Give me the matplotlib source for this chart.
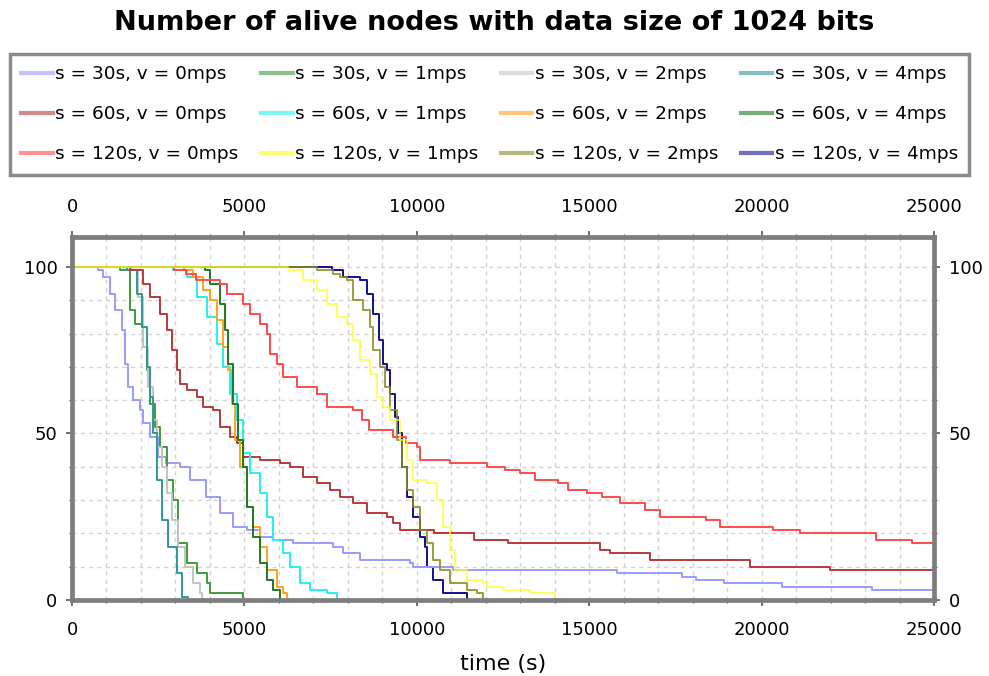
import matplotlib
matplotlib.use("Agg")
import matplotlib.pyplot as plt
from matplotlib.ticker import MultipleLocator

plt.rcParams['font.family'] = ['DejaVu Sans']

# alive nodes over time (s), drawn as steps
t_30_0 = [0, 750, 900, 1100, 1250, 1440, 1540, 1630, 1780, 1970, 2070, 2260, 2500, 2740, 3130, 3420,
          3900, 4290, 4680, 5070, 5450, 5840, 6420, 7580, 7870, 8350, 9800, 9900, 11050, 15800, 17700,
          18100, 18900, 20600, 23200, 25000]
n_30_0 = [100, 99, 97, 92, 87, 81, 71, 64, 60, 57, 53, 49, 43, 41, 40, 36,
          31, 26, 22, 21, 19, 18, 17, 16, 14, 12, 11, 10, 9, 8, 7,
          6, 5, 4, 3, 3]

t_30_1 = [0, 1390, 1680, 1830, 2070, 2170, 2260, 2410, 2550, 2750, 2940, 3080, 3330, 3620, 3910, 4000, 4970]
n_30_1 = [100, 99, 87, 83, 76, 69, 59, 52, 46, 36, 30, 17, 11, 8, 5, 2, 0]

t_30_2 = [0, 1730, 1920, 2070, 2210, 2360, 2460, 2600, 2750, 2890, 3080, 3280, 3520, 3710, 3760]
n_30_2 = [100, 99, 91, 76, 64, 54, 46, 40, 32, 24, 16, 10, 5, 2, 0]

t_30_4 = [0, 1590, 1880, 2020, 2170, 2260, 2360, 2460, 2600, 2790, 3040, 3180, 3370]
n_30_4 = [100, 99, 92, 82, 70, 61, 50, 36, 24, 16, 8, 1, 0]

t_60_0 = [0, 1680, 2070, 2260, 2550, 2750, 2890, 3040, 3130, 3330, 3620, 3810, 4100, 4290, 4580, 4780,
          4970, 5450, 6030, 6320, 6710, 7100, 7480, 7770, 8160, 8550, 9130, 9320, 9510, 10500, 11650,
          12650, 15300, 15600, 16760, 19660, 21980, 25000]
n_60_0 = [100, 99, 95, 91, 86, 81, 75, 69, 65, 63, 61, 58, 57, 52, 49, 47,
          43, 42, 41, 40, 37, 35, 33, 31, 29, 26, 25, 23, 21, 20, 18,
          17, 15, 14, 12, 10, 9, 9]

t_60_1 = [0, 2940, 3330, 3620, 3910, 4200, 4390, 4580, 4780, 4970, 5160, 5450, 5650, 5840, 6130, 6320,
          6610, 6900, 7390, 7680]
n_60_1 = [100, 99, 97, 91, 85, 77, 70, 62, 54, 44, 38, 32, 25, 18, 14, 10,
          5, 3, 2, 0]

t_60_2 = [0, 3250, 3520, 3810, 4000, 4200, 4390, 4530, 4630, 4730, 4870, 5070, 5260, 5450, 5650, 5940,
          6130, 6230]
n_60_2 = [100, 99, 97, 93, 90, 84, 76, 69, 59, 48, 40, 28, 22, 16, 9, 4,
          2, 0]

t_60_4 = [0, 3860, 4000, 4290, 4440, 4530, 4680, 4820, 4970, 5070, 5260, 5450, 5650, 5840, 6030]
n_60_4 = [100, 99, 95, 89, 81, 71, 59, 48, 40, 28, 19, 11, 6, 3, 0]

t_120_0 = [0, 2950, 3300, 3600, 4290, 4490, 4970, 5160, 5450, 5650, 5740, 5940, 6130, 6520, 7100, 7390,
           8160, 8400, 8600, 9320, 9700, 10000, 10090, 10960, 12030, 12560, 12990, 13430, 14100, 14390,
           14930, 15360, 15900, 16620, 17050, 18400, 18800, 20340, 21110, 23330, 24350, 25000]
n_120_0 = [100, 99, 98, 96, 95, 92, 89, 86, 83, 80, 74, 71, 67, 64, 62, 58,
           57, 54, 51, 49, 47, 46, 42, 41, 40, 39, 38, 36, 35, 33,
           32, 31, 29, 27, 25, 24, 22, 21, 20, 18, 17, 17]

t_120_1 = [0, 6270, 6710, 7100, 7390, 7680, 7970, 8160, 8350, 8640, 8840, 9030, 9220, 9510, 9710, 9900,
           10290, 10580, 10770, 10960, 11100, 11450, 11930, 12030, 12510, 13280, 14000]
n_120_1 = [100, 99, 96, 93, 89, 85, 83, 78, 72, 68, 61, 58, 54, 48, 42, 36,
           35, 30, 22, 15, 9, 6, 5, 4, 3, 2, 0]

t_120_2 = [0, 7100, 7580, 7770, 7970, 8160, 8450, 8650, 8740, 8930, 9080, 9220, 9420, 9560, 9710, 9900,
           10090, 10290, 10480, 10670, 10960, 11450, 11740, 11930]
n_120_2 = [100, 99, 98, 97, 96, 90, 87, 82, 75, 70, 64, 57, 48, 40, 33, 28,
           21, 17, 12, 9, 5, 3, 2, 0]

t_120_4 = [0, 7530, 7870, 8350, 8550, 8740, 8890, 9030, 9130, 9220, 9370, 9460, 9560, 9710, 9900, 10090,
           10240, 10290, 10480, 10770, 11450]
n_120_4 = [100, 99, 97, 96, 92, 86, 78, 71, 69, 62, 55, 50, 40, 31, 25, 19,
           16, 10, 6, 2, 0]

labels = ['s = 30s, v = 0mps', 's = 30s, v = 1mps', 's = 30s, v = 2mps', 's = 30s, v = 4mps',
          's = 60s, v = 0mps', 's = 60s, v = 1mps', 's = 60s, v = 2mps', 's = 60s, v = 4mps',
          's = 120s, v = 0mps', 's = 120s, v = 1mps', 's = 120s, v = 2mps', 's = 120s, v = 4mps']
times = [t_30_0, t_30_1, t_30_2, t_30_4, t_60_0, t_60_1, t_60_2, t_60_4,
         t_120_0, t_120_1, t_120_2, t_120_4]
counts = [n_30_0, n_30_1, n_30_2, n_30_4, n_60_0, n_60_1, n_60_2, n_60_4,
          n_120_0, n_120_1, n_120_2, n_120_4]
colors = ['#9a9aff', '#3c9c3c', '#c4c4c4', '#2f9898',
          '#b53a3a', '#22f0f0', '#ffa31a', '#1f7a1f',
          '#ff4a4a', '#ffff1a', '#8a8a20', '#101090']
# yellow and olive sit on top of the shared 100 line in the reference
zorders = [2.1] * 9 + [2.4, 2.3, 2.0]
alphas = [1.0] * 9 + [0.7, 0.85, 1.0]

fig = plt.figure(figsize=(9.89, 6.76), dpi=100)
ax = fig.add_axes([72 / 989, 1 - 600 / 676, (934 - 72) / 989, (600 - 237) / 676])

handles = []
for label, t, n, color, z, a in zip(labels, times, counts, colors, zorders, alphas):
    h, = ax.step(t, n, where='post', color=color, lw=1.4, label=label, zorder=z, alpha=a)
    handles.append(h)

ax.set_xlim(0, 25000)
ax.set_ylim(0, 109)
ax.xaxis.set_major_locator(MultipleLocator(5000))
ax.xaxis.set_minor_locator(MultipleLocator(1000))
ax.yaxis.set_major_locator(MultipleLocator(50))
ax.yaxis.set_minor_locator(MultipleLocator(10))
ax.grid(True, which='both', color='#d2d2d2', linestyle=(0, (3, 3)), lw=1)
ax.set_axisbelow(True)

ax.tick_params(which='both', direction='out', top=True, right=True,
               labeltop=True, labelright=True, labelsize=13, color='#555555')
ax.tick_params(which='major', length=4, width=1.2)
ax.tick_params(which='minor', length=2, width=1)
ax.tick_params(axis='x', pad=11)
ax.tick_params(axis='y', pad=6.5)
for sp in ax.spines.values():
    sp.set_color('#7d7d7d')
    sp.set_linewidth(3.4)

ax.set_xlabel('time (s)', fontsize=16)
ax.xaxis.set_label_coords(0.5, (600 - 664) / 363)
ax.xaxis.label.set_va('center')

fig.text(0.5, 1 - 23 / 676, 'Number of alive nodes with data size of 1024 bits',
         ha='center', va='center', fontsize=19.5, fontweight='bold')

# column-major fill -> reorder so rows are intervals
order = [0, 4, 8, 1, 5, 9, 2, 6, 10, 3, 7, 11]
leg = fig.legend([handles[i] for i in order], [labels[i] for i in order],
                 loc='upper left', ncol=4, bbox_to_anchor=(10 / 989, 1 - 54 / 676),
                 fontsize=13.3, frameon=True, fancybox=False, handlelength=1.7,
                 handletextpad=0.12, columnspacing=1.24, labelspacing=1.18,
                 borderpad=0.62, borderaxespad=0)
leg.get_frame().set_edgecolor('#6e6e6e')
leg.get_frame().set_linewidth(2.5)
for line in leg.get_lines():
    line.set_linewidth(3)
    line.set_alpha(0.6)

fig.savefig('out.png', dpi=100)
